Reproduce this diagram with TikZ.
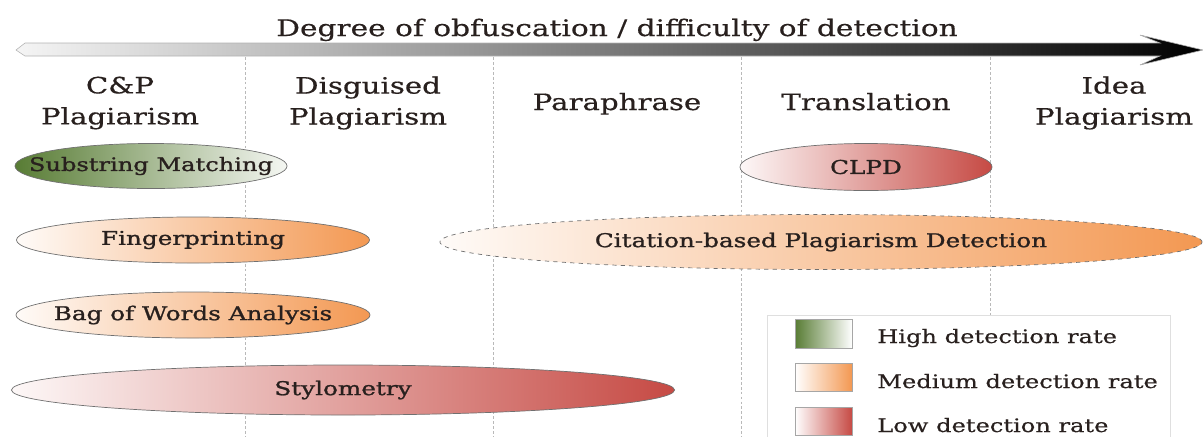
\documentclass[tikz,border=0pt]{standalone}
\usepackage{fontspec}
\setmainfont{DejaVu Serif}[FakeStretch=1.3, FakeBold=0.5]
\newfontfamily\methfont{DejaVu Serif}[FakeStretch=1.3, FakeBold=1.2]
\usetikzlibrary{shapes.geometric}
\definecolor{hiGreen}{RGB}{88,124,52}
\definecolor{midOrange}{RGB}{243,152,82}
\definecolor{lowRed}{RGB}{198,74,68}
\definecolor{inkText}{RGB}{40,32,30}
\definecolor{rimGray}{RGB}{112,112,112}
\tikzset{
  colhead/.style={align=center, text=inkText, font=\fontsize{16}{22}\selectfont, inner sep=0pt},
  method/.style={ellipse, draw=rimGray, line width=.5pt, inner sep=0pt},
  methlabel/.style={text=inkText, font=\methfont\fontsize{13.5}{16}\selectfont, inner sep=0pt},
  colsep/.style={gray!55, line width=.5pt, dash pattern=on 2pt off 1.5pt},
  swatch/.style={draw=gray!70, line width=.5pt},
  legtext/.style={anchor=base west, text=inkText, font=\fontsize{13.2}{16}\selectfont, inner sep=0pt}
}
\begin{document}
\begin{tikzpicture}[x=0.025cm, y=-0.025cm]
\useasboundingbox (0,0) rectangle (1203,436);
\draw[draw=gray!60, line width=.4pt, left color=gray!8, right color=black]
  (16,50) -- (25,43) -- (1160,43) -- (1140,35) -- (1203,50) -- (1140,65) -- (1160,56) -- (25,56) -- cycle;
\node[colhead, anchor=base, font=\fontsize{16.2}{22}\selectfont] (title) at (617,36) {Degree of obfuscation / difficulty of detection};
\foreach \x in {245,493,741,990}
  \draw[colsep] (\x,57) -- (\x,436);
\node[colhead] (cp) at (120,103) {C\&P\\Plagiarism};
\node[colhead] (disg) at (368,103) {Disguised\\Plagiarism};
\node[colhead, anchor=base] (para) at (617,110) {Paraphrase};
\node[colhead, anchor=base] (trans) at (866,110) {Translation};
\node[colhead] (idea) at (1114,103) {Idea\\Plagiarism};
\node[method, minimum width=6.8cm, minimum height=1.125cm, left color=hiGreen, right color=hiGreen!6] (substr) at (151,166) {};
\node[methlabel, font=\methfont\fontsize{13.2}{16}\selectfont] at (substr) {Substring Matching};
\node[method, minimum width=6.3cm, minimum height=1.175cm, left color=lowRed!4, right color=lowRed] (clpd) at (866,167) {};
\node[methlabel] at (clpd) {CLPD};
\node[method, minimum width=8.825cm, minimum height=1.15cm, left color=midOrange!4, right color=midOrange] (finger) at (193,240) {};
\node[methlabel] at (finger) {Fingerprinting};
\node[method, dashed, minimum width=19.05cm, minimum height=1.375cm, left color=midOrange!4, right color=midOrange] (cbpd) at (821,242) {};
\node[methlabel] at (cbpd) {Citation-based Plagiarism Detection};
\node[method, minimum width=8.85cm, minimum height=1.15cm, left color=midOrange!4, right color=midOrange] (bow) at (193,315) {};
\node[methlabel] at (bow) {Bag of Words Analysis};
\node[method, minimum width=16.575cm, minimum height=1.25cm, left color=lowRed!4, right color=lowRed] (stylo) at (343,390) {};
\node[methlabel] at (stylo) {Stylometry};
\draw[draw=gray!25, fill=white] (767,315) rectangle (1170,445);
\draw[swatch, left color=hiGreen, right color=white] (795,319) rectangle (852,348);
\draw[swatch, left color=white, right color=midOrange] (795,363) rectangle (852,391);
\draw[swatch, left color=white, right color=lowRed] (795,407) rectangle (852,435);
\node[legtext] (lhigh) at (877,343) {High detection rate};
\node[legtext] (lmid) at (877,388) {Medium detection rate};
\node[legtext] (llow) at (877,432) {Low detection rate};
\end{tikzpicture}
\end{document}
